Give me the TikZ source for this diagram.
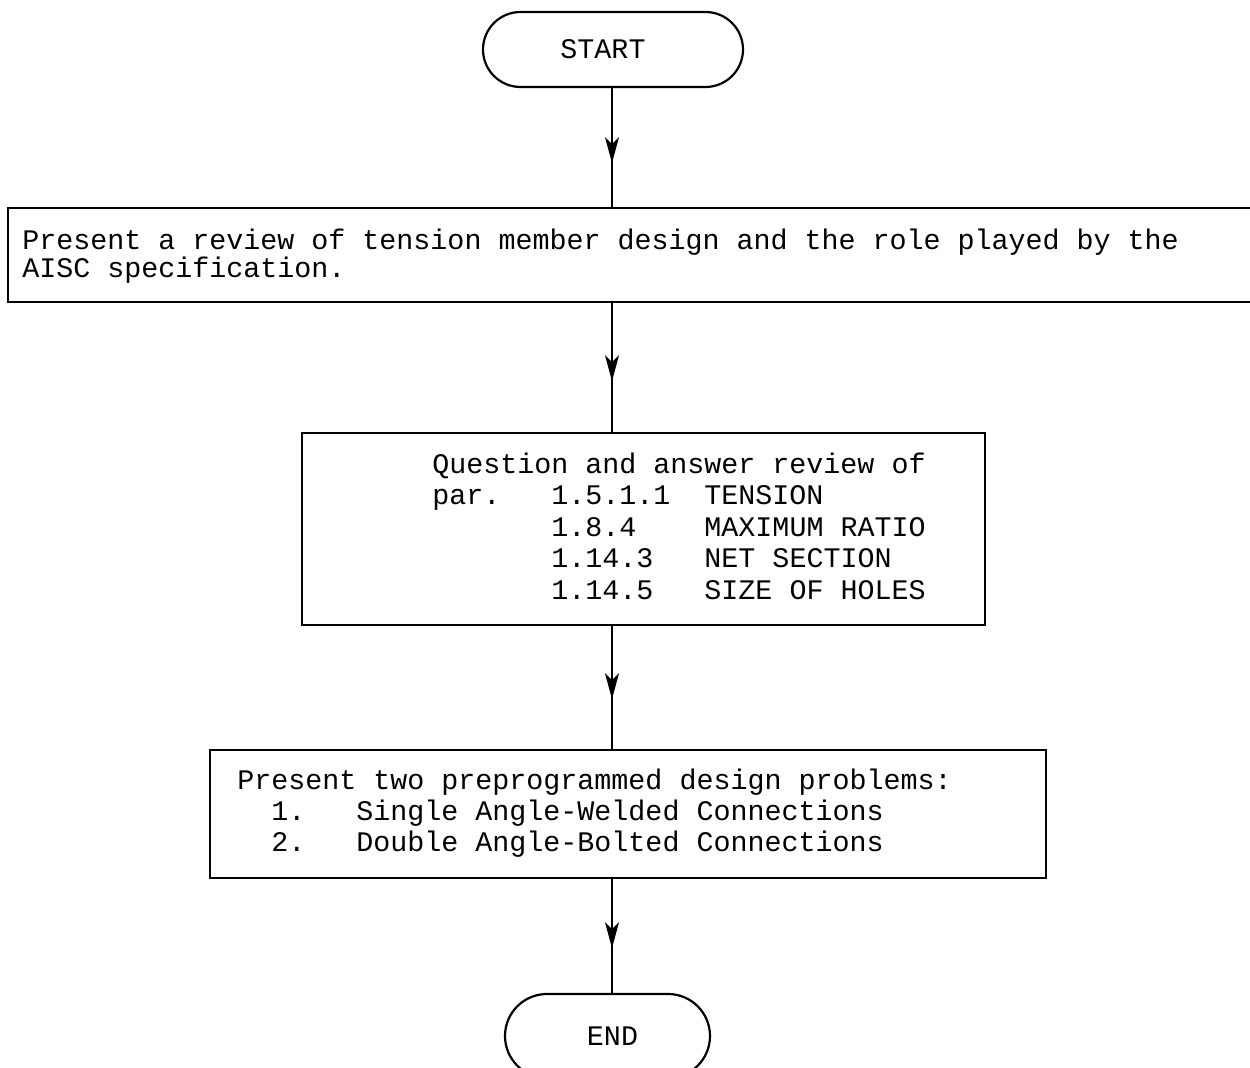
\documentclass[tikz,border=0pt]{standalone}
\usepackage{fontspec}
\setmainfont{Liberation Mono}
\usetikzlibrary{shapes.misc,arrows.meta,decorations.markings}
% horizontal gap of n character cells in the current monospaced font
\newcommand\gap[1]{\hspace*{#1\fontcharwd\font`\M}}
\begin{document}
\begin{tikzpicture}[x=0.5pt,y=-0.5pt,
  terminal/.style={draw, line width=1.1pt, rounded rectangle, inner sep=0pt,
    font=\fontsize{14.17pt}{14pt}\selectfont},
  stepbox/.style={draw, line width=1.2pt, rectangle, inner sep=0pt},
  boxtext/.style={anchor=west, align=left, inner sep=0pt},
  flow/.style={line width=1pt},
  midarrow/.style={postaction={decorate}, decoration={markings,
    mark=at position #1 with {\arrow{Stealth[length=13pt,width=7pt,inset=3.5pt]}}}}]

\fill[white] (0,0) rectangle (1250,1068);
\useasboundingbox (0,0) rectangle (1250,1068);

% terminals
\node[terminal, minimum width=130pt, minimum height=37.5pt] (start) at (613,49.5)
  {START\hspace*{10pt}};
\node[terminal, minimum width=102.5pt, minimum height=42pt] (end) at (607.5,1036)
  {\hspace*{5pt}END};

% process boxes
\node[stepbox, minimum width=627pt, minimum height=47pt] (b1) at (635,255) {};
\node[boxtext, font=\fontsize{14.17pt}{14pt}\selectfont] (b1t) at (22,256)
  {Present a review of tension member design and the role played by the\\
   AISC specification.};

\node[stepbox, minimum width=341.5pt, minimum height=96pt] (b2) at (643.5,529) {};
\node[boxtext, font=\fontsize{14.17pt}{15.75pt}\selectfont] (b2t) at (432,526)
  {Question and answer review of\\
   par.\gap{3}1.5.1.1\gap{2}TENSION\\
   \gap{7}1.8.4\gap{4}MAXIMUM RATIO\\
   \gap{7}1.14.3\gap{3}NET SECTION\\
   \gap{7}1.14.5\gap{3}SIZE OF HOLES};

\node[stepbox, minimum width=418pt, minimum height=64pt] (b3) at (628,814) {};
\node[boxtext, font=\fontsize{14.17pt}{15.5pt}\selectfont] (b3t) at (237,813)
  {Present two preprogrammed design problems:\\
   \gap{2}1.\gap{3}Single Angle-Welded Connections\\
   \gap{2}2.\gap{3}Double Angle-Bolted Connections};

% flow lines along one vertical spine
\coordinate (spine) at (612,0);
\draw[flow, midarrow=37.5pt] (spine |- start.south) -- (spine |- b1.north);
\draw[flow, midarrow=39pt]   (spine |- b1.south) -- (spine |- b2.north);
\draw[flow, midarrow=36.5pt] (spine |- b2.south) -- (spine |- b3.north);
\draw[flow, midarrow=34.5pt] (spine |- b3.south) -- (spine |- end.north);
\end{tikzpicture}
\end{document}
